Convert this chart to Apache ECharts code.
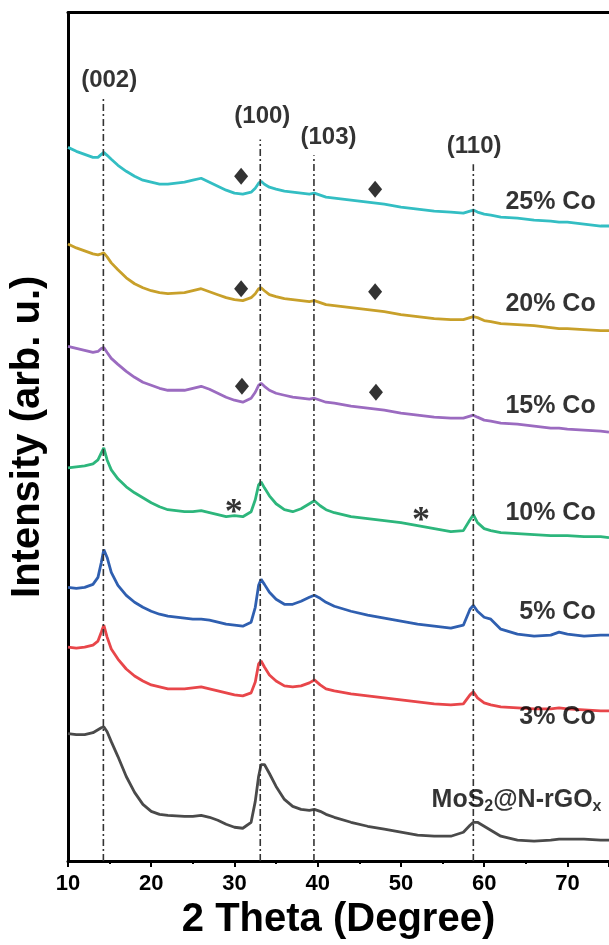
<!DOCTYPE html>
<html>
<head>
<meta charset="utf-8">
<script src="https://cdn.jsdelivr.net/npm/echarts@6/dist/echarts.min.js"></script>
<style>
html,body{margin:0;padding:0;background:#fff;}
#chart{width:609px;height:945px;}
</style>
</head>
<body>
<div id="chart"></div>
<script>
// 2θ sample positions (degree)
const angles = [10,11,12,13,13.6,14.0,14.3,14.7,15.2,16,17,18,19,20,21,22,24,25,26,27,28,29,30,31,32,32.5,32.9,33.2,33.6,34.2,35,36,37,38,39,39.6,40.3,41,42,44,46,48,50,52,54,56,57.5,58.3,58.7,59.2,60,60.8,62,64,66,68,69,70,72,74,75];

// Intensities (arb. u., curves already offset as in the figure)
const mos2 = [128,127,127,129,132,134,135,130,120,105,85,69,57,50,47,46,45,45,46,44,41,37,34,33,39,60,85,97,97,88,75,62,55,52,51,52,50,47,44,39,35,32,29,26,25,25,29,36,39,39,35,31,25,21,20,21,22,22,22,21,21];
const co3 = [215,214,215,217,221,230,237,225,213,203,193,186,181,177,175,173,173,174,175,173,171,169,167,166,169,180,198,201,195,187,181,176,175,176,179,182,177,173,171,168,166,164,162,160,158,157,158,167,170,164,159,157,155,154,153,153,154,153,152,151,151];
const co5 = [275,274,275,278,285,300,313,305,290,277,267,260,255,251,248,246,244,243,243,242,240,238,237,236,240,255,277,283,278,270,263,258,258,261,265,267,264,260,256,251,247,244,241,238,236,234,237,253,257,251,245,243,233,228,226,227,230,228,226,227,227];
const co10 = [395,396,397,399,403,410,415,403,393,384,376,370,365,360,356,353,351,351,352,350,348,346,347,346,351,363,378,381,375,367,359,353,351,354,359,362,357,353,350,346,344,342,340,337,334,331,332,343,348,340,334,332,330,329,328,327,327,327,326,326,325];
const co15 = [517,515,513,511,512,515,516,511,505,499,492,486,481,478,475,473,473,475,477,474,470,466,463,461,465,471,478,480,477,473,470,468,466,465,464,465,463,461,460,457,455,453,450,448,446,445,445,447,448,446,443,442,440,439,437,435,435,434,433,432,431];
const co20 = [620,616,613,610,609,610,611,607,601,594,586,580,576,573,571,570,571,573,575,572,569,566,564,563,566,570,575,576,573,569,567,565,564,563,562,563,561,559,558,556,554,552,549,547,545,544,544,546,547,546,543,542,540,539,538,536,535,535,534,533,533];
const co25 = [717,713,710,707,707,710,712,709,705,699,693,688,684,682,680,680,682,684,686,682,678,674,671,670,672,676,681,683,680,677,675,673,672,671,670,671,669,667,666,664,662,660,657,655,653,652,651,653,654,652,650,649,647,646,644,643,642,642,640,638,638];

const seriesNames = ['MoS2@N-rGOx','3% Co','5% Co','10% Co','15% Co','20% Co','25% Co'];
const seriesColors = ['#4a4a4a','#e8464a','#2f5fb0','#2db67c','#9b6bc0','#c8a02a','#33bec3'];
const seriesData = [mos2, co3, co5, co10, co15, co20, co25];

// curve labels (right aligned end position)
const labelX = [74.1, 73.4, 73.4, 73.4, 73.4, 73.4, 73.4];
const labelY = [61, 145, 250, 350, 457, 560, 662];

// reference peak lines
const peakPos = [14.25, 33.1, 39.55, 58.7];
const peakLineTop = [768, 725, 709, 700];
const peakText = ['(002)','(100)','(103)','(110)'];
const peakTextX = [14.95, 33.35, 41.3, 58.8];
const peakTextY = [784, 748, 727.5, 718.5];

// diamond markers
const diamondX = [30.8, 46.9, 30.8, 46.9, 30.9, 47.0];
const diamondY = [688, 675, 575, 572, 477, 471];
// asterisk markers
const starX = [29.9, 52.4];
const starY = [358, 350];

const FONT = '"Liberation Sans", Arial, sans-serif';
const chart = echarts.init(document.getElementById('chart'), null, {renderer:'canvas'});

const series = [];
// spectra
seriesData.forEach((d, i) => {
  series.push({
    type:'line', name:seriesNames[i], symbol:'none', z:3,
    data: angles.map((a, k) => [a, d[k]]),
    lineStyle:{color:seriesColors[i], width:2.8},
    itemStyle:{color:seriesColors[i]}
  });
});
// reference lines (drawn over the spectra)
peakPos.forEach((p, i) => {
  series.push({
    type:'line', silent:true, symbol:'none', z:4,
    data:[[p, 0],[p, peakLineTop[i]]],
    lineStyle:{color:'#333', width:1.6, type:[7,3,2,3]}
  });
});
// curve labels
series.push({
  type:'scatter', symbolSize:0, z:5, silent:true,
  data: seriesNames.map((n, i) => ({name:n, value:[labelX[i], labelY[i]]})),
  label:{
    show:true, position:'left', distance:0, color:'#000',
    fontFamily:FONT, fontWeight:'bold', fontSize:25,
    formatter: p => p.name === 'MoS2@N-rGOx' ? '{a|MoS}{s|2}{a|@N-rGO}{s|x}' : '{a|' + p.name + '}',
    rich:{
      a:{fontFamily:FONT, fontWeight:'bold', fontSize:25, color:'#000', lineHeight:30},
      s:{fontFamily:FONT, fontWeight:'bold', fontSize:16, color:'#000', lineHeight:30, padding:[12,0,0,0]}
    }
  }
});
// peak labels
series.push({
  type:'scatter', symbolSize:0, z:5, silent:true,
  data: peakText.map((t, i) => ({name:t, value:[peakTextX[i], peakTextY[i]]})),
  label:{show:true, position:'inside', formatter:'{b}', color:'#000',
    fontFamily:FONT, fontWeight:'bold', fontSize:24}
});
// diamonds
series.push({
  type:'scatter', symbol:'diamond', symbolSize:[14,17], z:6, silent:true,
  itemStyle:{color:'#000'},
  data: diamondX.map((x, i) => [x, diamondY[i]])
});
// asterisks
series.push({
  type:'scatter', symbolSize:0, z:6, silent:true,
  data: starX.map((x, i) => [x, starY[i]]),
  label:{show:true, position:'inside', formatter:'*', color:'#000', offset:[0,9],
    fontFamily:'"Liberation Serif", serif', fontWeight:'bold', fontSize:36}
});

chart.setOption({
  animation:false,
  backgroundColor:'#fff',
  grid:{left:66, top:12.5, right:0, bottom:80, containLabel:false},
  xAxis:[{
    type:'value', min:10, max:75, interval:10, position:'bottom',
    name:'2 Theta (Degree)', nameLocation:'middle', nameGap:38,
    nameTextStyle:{fontFamily:FONT, fontWeight:'bold', fontSize:40, color:'#000'},
    axisLine:{show:true, onZero:false, lineStyle:{color:'#000', width:3}},
    axisTick:{show:true, inside:false, length:6, lineStyle:{color:'#000', width:2}},
    minorTick:{show:true, splitNumber:2, length:3, lineStyle:{color:'#000', width:2}},
    axisLabel:{show:true, margin:12, showMaxLabel:false, color:'#000',
      fontFamily:FONT, fontWeight:'bold', fontSize:22},
    splitLine:{show:false}
  },{
    type:'value', min:10, max:75, position:'top',
    axisLine:{show:true, onZero:false, lineStyle:{color:'#000', width:3}},
    axisTick:{show:false}, axisLabel:{show:false}, splitLine:{show:false}
  }],
  yAxis:{
    type:'value', min:0, max:852.5,
    name:'Intensity (arb. u.)', nameLocation:'middle', nameGap:20, nameRotate:90,
    nameTextStyle:{fontFamily:FONT, fontWeight:'bold', fontSize:40, color:'#000'},
    axisLine:{show:true, onZero:false, lineStyle:{color:'#000', width:3}},
    axisTick:{show:false}, axisLabel:{show:false}, splitLine:{show:false}
  },
  series: series
});
</script>
</body>
</html>
